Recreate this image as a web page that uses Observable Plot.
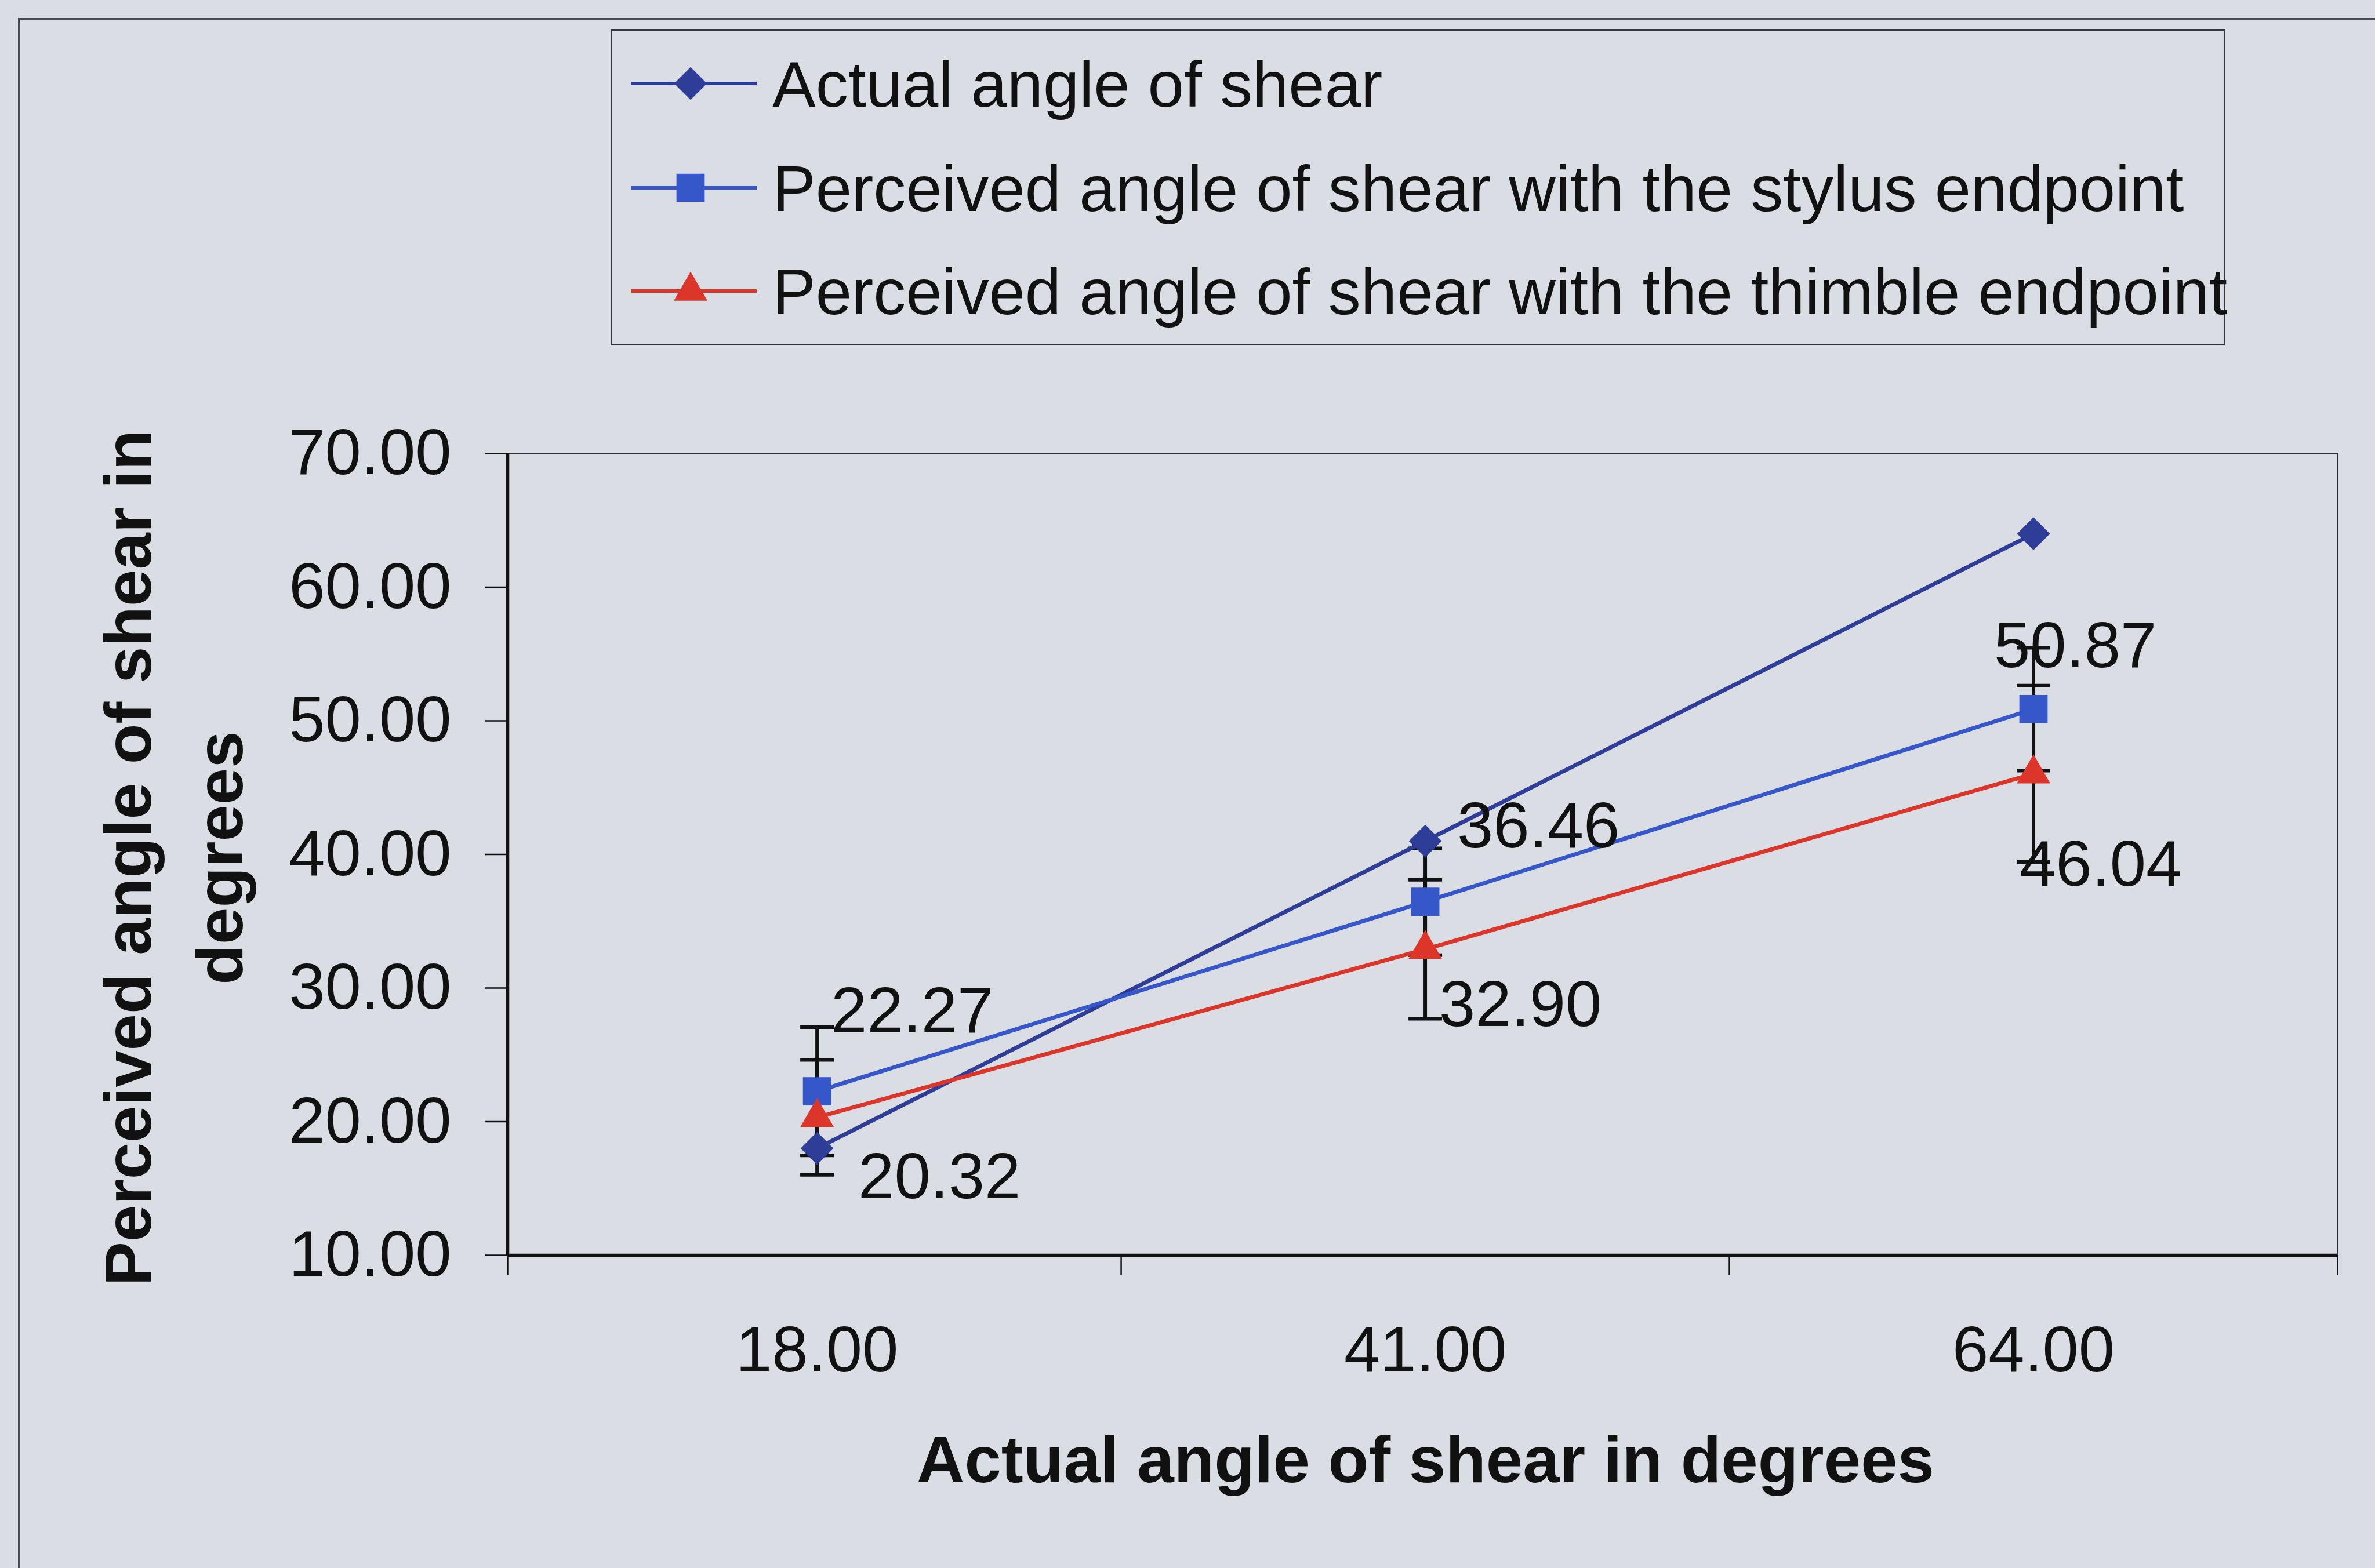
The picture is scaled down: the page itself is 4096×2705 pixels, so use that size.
<!DOCTYPE html>
<html>
<head>
<meta charset="utf-8">
<script src="https://cdn.jsdelivr.net/npm/d3@7"></script>
<script src="https://cdn.jsdelivr.net/npm/@observablehq/plot@0.6"></script>
<style>
  html, body { margin: 0; padding: 0; background: #dbdde4; width: 4096px; height: 2705px; overflow: hidden;
    font-family: "Liberation Sans", Arial, sans-serif; }
  #wrap { position: relative; width: 4096px; height: 2705px; }
  #outer { position: absolute; left: 31px; top: 31px; width: 4300px; height: 2900px;
    border-left: 3px solid #4a4b52; border-top: 3px solid #4a4b52; }
  #chart { position: absolute; left: 0; top: 0; }
  #legend { position: absolute; left: 1053px; top: 50px; width: 2785px; height: 546px;
    border: 3px solid #34353b; box-sizing: border-box; }
  #legend svg { position: absolute; left: -3px; top: -3px; overflow: visible; }
</style>
</head>
<body>
<div id="wrap">
  <div id="outer"></div>
  <div id="chart"></div>
  <div id="legend"></div>
</div>
<script>
// ---- data ----
const categories = [18, 41, 64];
const xTickLabels = ["18.00", "41.00", "64.00"];
const yTicks = [10, 20, 30, 40, 50, 60, 70];
const seriesNames = [
  "Actual angle of shear",
  "Perceived angle of shear with the stylus endpoint",
  "Perceived angle of shear with the thimble endpoint"
];
const actual = [18, 41, 64];
const stylus = [22.27, 36.46, 50.87];
const thimble = [20.32, 32.90, 46.04];
const stylusErr = [4.8, 4.0, 4.6];
const thimbleErr = [4.3, 5.2, 6.6];
const xTitle = "Actual angle of shear in degrees";
const yTitle = "Perceived angle of shear in\ndegrees";

// ---- layout / style ----
const W = 4096, H = 2705;
const margin = {top: 782, right: 65, bottom: 540, left: 875};
const xDomain = [6.3, 75.5];
const xBounds = [6.3, 29.5, 52.5, 75.5];
const FONT = "Liberation Sans, Arial, sans-serif";
const FS = 112;
const TFS = 114;
const INK = "#111";

const seriesDefs = [
  {name: seriesNames[0], values: actual, err: null, color: "#2e3d98", symbol: "diamond2", r: 25.5},
  {name: seriesNames[1], values: stylus, err: stylusErr, color: "#3557c9", symbol: "square", r: 27.5},
  {name: seriesNames[2], values: thimble, err: thimbleErr, color: "#dc3529", symbol: "triangle", r: 21.5}
];
// label nudges (px) for the data labels of stylus / thimble series
const stylusLabelOffsets = [[24, -138], [55, -129], [-68, -108]];
const thimbleLabelOffsets = [[71, 104], [24, 97], [-24, 157]];

const capSymbol = {
  draw(ctx, size) { const w = Math.sqrt(size) / 2; ctx.moveTo(-w, 0); ctx.lineTo(w, 0); }
};
const capR = 58 / Math.sqrt(Math.PI);
const fmt = d3.format(".2f");

const rowsOf = s => s.values.map((v, i) => ({series: s.name, x: categories[i], y: v, e: s.err ? s.err[i] : null}));

const marks = [];
marks.push(Plot.frame({stroke: "#2c2d33", strokeWidth: 2.5}));
// y axis
marks.push(Plot.axisY({ticks: yTicks, tickFormat: d => fmt(d), tickSize: 38, tickPadding: 59,
  fontSize: FS, color: INK, strokeWidth: 2.5, label: null}));
// x boundary ticks
marks.push(Plot.axisX({ticks: xBounds, tickSize: 35, tickFormat: () => "", color: INK, strokeWidth: 2.5, label: null}));
// x category labels
marks.push(Plot.axisX({ticks: categories, tickSize: 0, tickPadding: 121,
  tickFormat: d => xTickLabels[categories.indexOf(d)], fontSize: FS, color: INK, label: null}));
// main axis lines
marks.push(Plot.ruleX([xDomain[0]], {stroke: INK, strokeWidth: 5.5}));
marks.push(Plot.ruleY([yTicks[0]], {stroke: INK, strokeWidth: 5.5}));

// error bars
for (const s of seriesDefs) {
  if (!s.err) continue;
  const rows = rowsOf(s);
  marks.push(Plot.ruleX(rows, {x: "x", y1: d => d.y - d.e, y2: d => d.y + d.e, stroke: INK, strokeWidth: 6}));
  marks.push(Plot.dot(rows, {x: "x", y: d => d.y + d.e, symbol: capSymbol, r: capR, stroke: INK, strokeWidth: 6, fill: "none"}));
  marks.push(Plot.dot(rows, {x: "x", y: d => d.y - d.e, symbol: capSymbol, r: capR, stroke: INK, strokeWidth: 6, fill: "none"}));
}
// lines
for (const s of seriesDefs) {
  marks.push(Plot.line(rowsOf(s), {x: "x", y: "y", stroke: s.color, strokeWidth: 7}));
}
// markers
for (const s of seriesDefs) {
  marks.push(Plot.dot(rowsOf(s), {x: "x", y: "y", symbol: s.symbol, r: s.r, fill: s.color, stroke: "none"}));
}
// data labels
[[stylus, stylusLabelOffsets], [thimble, thimbleLabelOffsets]].forEach(([vals, offs]) => {
  vals.forEach((v, i) => {
    marks.push(Plot.text([{x: categories[i], y: v}], {x: "x", y: "y", text: d => fmt(d.y),
      dx: offs[i][0], dy: offs[i][1], textAnchor: "start", lineAnchor: "middle", fontSize: FS, fill: INK}));
  });
});
// axis titles
marks.push(Plot.text([yTitle], {text: d => d, frameAnchor: "left", rotate: -90, dx: -587, dy: 6,
  textAnchor: "middle", lineAnchor: "middle", lineHeight: 1.38, fontSize: TFS, fontWeight: "bold", fill: INK}));
marks.push(Plot.text([xTitle], {text: d => d, frameAnchor: "bottom", dx: 5, dy: 355,
  textAnchor: "middle", lineAnchor: "middle", fontSize: TFS, fontWeight: "bold", fill: INK}));

const chart = Plot.plot({
  width: W, height: H,
  marginTop: margin.top, marginRight: margin.right, marginBottom: margin.bottom, marginLeft: margin.left,
  x: {type: "linear", domain: xDomain, label: null},
  y: {type: "linear", domain: [yTicks[0], yTicks[yTicks.length - 1]], label: null},
  style: {background: "transparent", fontFamily: FONT, fontSize: FS + "px", color: INK, overflow: "visible"},
  marks
});
document.getElementById("chart").appendChild(chart);

// ---- legend ----
const legW = 2785, legH = 546;
const leg = d3.select("#legend").append("svg").attr("width", legW).attr("height", legH);
const rowY = [94, 274, 452];
seriesDefs.forEach((s, i) => {
  const g = leg.append("g").attr("transform", `translate(0,${rowY[i]})`);
  g.append("line").attr("x1", 35).attr("x2", 252).attr("y1", 0).attr("y2", 0)
    .attr("stroke", s.color).attr("stroke-width", 6);
  const symType = s.symbol === "diamond2" ? d3.symbolDiamond2 : s.symbol === "square" ? d3.symbolSquare : d3.symbolTriangle;
  g.append("path").attr("transform", "translate(138,0)")
    .attr("d", d3.symbol(symType, Math.PI * s.r * s.r)()).attr("fill", s.color);
  g.append("text").attr("x", 279).attr("y", 40).attr("fill", INK)
    .attr("font-family", FONT).attr("font-size", FS).text(s.name);
});
</script>
</body>
</html>
